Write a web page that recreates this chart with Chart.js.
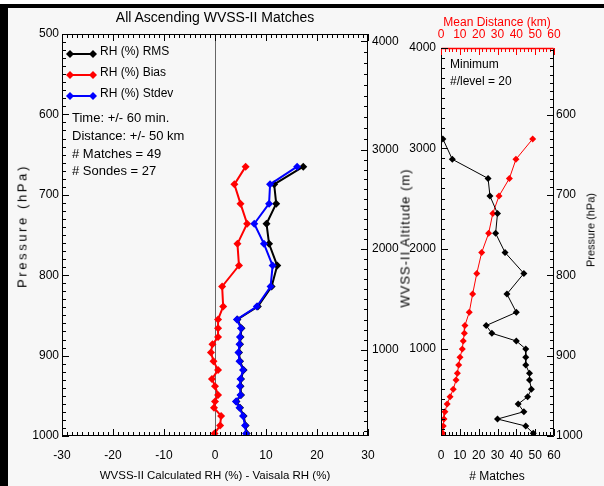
<!DOCTYPE html>
<html><head><meta charset="utf-8">
<script src="https://cdn.jsdelivr.net/npm/chart.js@4.4.1/dist/chart.umd.min.js"></script>
<style>
html,body{margin:0;padding:0;background:#f7f7f7;}
#wrap{position:relative;width:604px;height:486px;overflow:hidden;background:#f7f7f7;font-family:"Liberation Sans",Arial,sans-serif;color:#000;}
canvas{position:absolute;left:0;top:0;}
.t{position:absolute;white-space:nowrap;line-height:1;}
.c{transform:translate(-50%,-50%);}
.l{transform:translate(0,-50%);}
.rot{transform:translate(-50%,-50%) rotate(-90deg);}
.band{position:absolute;background:#000;}
</style></head><body>
<div id="wrap">
<div style="position:absolute;left:0;top:0;width:604px;height:4px;background:#fff"></div>
<div class="band" style="left:0;top:4px;width:604px;height:4px"></div>
<div class="band" style="left:0;top:4px;width:8px;height:482px"></div>
<canvas id="c1" width="604" height="486"></canvas>
<canvas id="c2" width="604" height="486"></canvas>
<div class="t c" style="left:215px;top:17px;font-size:14px">All Ascending WVSS-II Matches</div>
<div class="t rot" style="left:22px;top:226px;font-size:13px;letter-spacing:2.6px">Pressure (hPa)</div>
<div class="t rot" style="left:405px;top:238px;font-size:13px;letter-spacing:1px">WVSS-II Altitude (m)</div>
<div class="t rot" style="left:591px;top:230px;font-size:11px">Pressure (hPa)</div>
<div class="t c" style="left:215px;top:476px;font-size:11.5px">WVSS-II Calculated RH (%) - Vaisala RH (%)</div>
<div class="t c" style="left:497px;top:476px;font-size:12px"># Matches</div>
<div class="t c" style="left:497px;top:22px;font-size:12px;color:#ff0000">Mean Distance (km)</div>
<div class="t l" style="left:100px;top:51px;font-size:12px">RH (%) RMS</div>
<div class="t l" style="left:100px;top:72px;font-size:12px">RH (%) Bias</div>
<div class="t l" style="left:100px;top:93px;font-size:12px">RH (%) Stdev</div>
<div class="t l" style="left:72px;top:117px;font-size:13px">Time: +/- 60 min.</div>
<div class="t l" style="left:72px;top:135px;font-size:13px">Distance: +/- 50 km</div>
<div class="t l" style="left:72px;top:153px;font-size:13px"># Matches = 49</div>
<div class="t l" style="left:72px;top:170px;font-size:13px"># Sondes = 27</div>
<div class="t l" style="left:450px;top:64px;font-size:12px">Minimum</div>
<div class="t l" style="left:450px;top:81px;font-size:12px">#/level = 20</div>
</div>
<script>
// ===== DATA =====
const levelPressure = [665, 687, 711, 736, 761, 788, 814, 839, 855, 866, 877, 886, 896, 907, 918, 929, 938, 949, 957, 965, 975, 987, 997];
const rhRms   = [17.3, 11.6, 12.0, 10.1, 10.6, 12.2, 11.1, 8.4, 4.4, 5.2, 5.0, 4.9, 4.7, 4.9, 5.6, 5.1, 5.0, 5.1, 4.2, 4.9, 5.6, 6.0, 6.2];
const rhBias  = [6.0, 3.8, 5.0, 6.3, 4.4, 4.7, 1.4, 1.6, 0.6, 0.6, 0.6, -0.5, -0.8, -0.3, 0.6, -0.6, 0.0, 0.6, 0.0, -0.2, 1.2, 1.0, -0.1];
const rhStdev = [16.1, 10.8, 10.6, 7.7, 9.6, 11.3, 10.9, 8.2, 4.3, 5.1, 4.9, 4.8, 4.6, 4.8, 5.5, 5.0, 4.9, 5.0, 4.1, 4.8, 5.5, 5.9, 6.1];

const levelAltitude = [3094, 2891, 2700, 2525, 2351, 2153, 1962, 1753, 1548, 1366, 1234, 1157, 1080, 1000, 917, 840, 758, 691, 598, 524, 452, 375, 302, 232, 160];
const matchCount   = [1, 6, 25, 26, 30, 29, 34, 44, 35, 40, 24, 27, 40, 45, 45, 45, 47, 47, 48, 46, 41, 44, 30, 45, 49];
const meanDistance = [48.7, 39.8, 36.3, 30.8, 27.5, 25.3, 21.6, 19.0, 16.8, 15.0, 12.7, 12.4, 11.8, 11.3, 10.1, 9.4, 8.7, 8.0, 6.5, 4.8, 3.3, 2.1, 1.6, 1.2, 0.9];

const rhTicks = [-30, -20, -10, 0, 10, 20, 30];
const pressureTicks = [500, 600, 700, 800, 900, 1000];
const altTickLabels = [1000, 2000, 3000, 4000];
const altTickPressure = [893, 767, 644, 509];
const countTicks = [0, 10, 20, 30, 40, 50, 60];
const rightPressureTicks = [600, 700, 800, 900, 1000];

Chart.defaults.font.family = "'Liberation Sans', Arial, sans-serif";
Chart.defaults.font.size = 12;
Chart.defaults.color = '#000';

function range(a, b, s) { const r = []; for (let v = a; v <= b + 1e-9; v += s) r.push(+v.toFixed(6)); return r; }
function altToP(a) {
  let i = 0;
  if (a >= altTickLabels[altTickLabels.length - 1]) i = altTickLabels.length - 2;
  else { while (i < altTickLabels.length - 2 && a > altTickLabels[i + 1]) i++; }
  const a0 = altTickLabels[i], a1 = altTickLabels[i + 1], p0 = altTickPressure[i], p1 = altTickPressure[i + 1];
  return p0 + (a - a0) / (a1 - a0) * (p1 - p0);
}

function drawTicks(ctx, scale, side, majors, minors, color, area) {
  ctx.save(); ctx.strokeStyle = color; ctx.lineWidth = 1; ctx.beginPath();
  const d = (v, len) => {
    const p = Math.round(scale.getPixelForValue(v)) + 0.5;
    if (side === 'bottom') { ctx.moveTo(p, area.bottom); ctx.lineTo(p, area.bottom - len); }
    if (side === 'top') { ctx.moveTo(p, area.top); ctx.lineTo(p, area.top + len); }
    if (side === 'left') { ctx.moveTo(area.left, p); ctx.lineTo(area.left + len, p); }
    if (side === 'right') { ctx.moveTo(area.right, p); ctx.lineTo(area.right - len, p); }
  };
  majors.forEach(v => d(v, 7)); minors.forEach(v => d(v, 4));
  ctx.stroke(); ctx.restore();
}
function diamond(ctx, x, y, r, c) {
  ctx.fillStyle = c; ctx.beginPath();
  ctx.moveTo(x, y - r); ctx.lineTo(x + r, y); ctx.lineTo(x, y + r); ctx.lineTo(x - r, y); ctx.closePath(); ctx.fill();
}

const setTicks = arr => s => { s.ticks = arr.map(v => ({ value: v })); };
const plain = v => String(v);
const noGrid = { display: false, drawTicks: false };

// ===== LEFT CHART =====
const leftPlugin = {
  id: 'leftDeco',
  beforeDatasetsDraw(chart) {
    const { ctx, chartArea: a, scales } = chart;
    const x0 = Math.round(scales.x.getPixelForValue(0)) + 0.5;
    ctx.save(); ctx.strokeStyle = '#666'; ctx.lineWidth = 1;
    ctx.beginPath(); ctx.moveTo(x0, a.top); ctx.lineTo(x0, a.bottom); ctx.stroke(); ctx.restore();
  },
  afterDraw(chart) {
    const { ctx, chartArea: a, scales } = chart;
    ctx.save(); ctx.strokeStyle = '#000'; ctx.lineWidth = 1;
    ctx.strokeRect(Math.round(a.left) + 0.5, Math.round(a.top) + 0.5, Math.round(a.right - a.left) - 1, Math.round(a.bottom - a.top) - 1);
    ctx.restore();
    const xMin = range(-30, 30, 1).filter(v => v % 10 !== 0);
    drawTicks(ctx, scales.x, 'bottom', rhTicks, xMin, '#000', a);
    drawTicks(ctx, scales.x, 'top', rhTicks, xMin, '#000', a);
    drawTicks(ctx, scales.y, 'left', pressureTicks, range(500, 1000, 10).filter(v => v % 100 !== 0), '#000', a);
    const altMinor = range(100, 4100, 100).filter(v => v % 1000 !== 0).map(altToP).filter(p => p >= 500 && p <= 1000);
    drawTicks(ctx, scales.y2, 'right', altTickPressure, altMinor, '#000', a);
    // legend symbols
    const items = [['#000', 54], ['#ff0000', 75], ['#0000ff', 96]];
    items.forEach(([c, y]) => {
      ctx.save(); ctx.strokeStyle = c; ctx.lineWidth = 2;
      ctx.beginPath(); ctx.moveTo(70, y); ctx.lineTo(93, y); ctx.stroke();
      diamond(ctx, 70, y, 4, c); diamond(ctx, 93, y, 4, c); ctx.restore();
    });
  }
};

const mk = (vals, ys) => vals.map((v, i) => ({ x: v, y: ys[i] }));
const lineDs = (label, data, color, order, w, r) => ({
  label, data, order, showLine: true, borderColor: color, backgroundColor: color,
  borderWidth: w, pointStyle: 'rectRot', pointRadius: r, pointBorderWidth: 0, pointHoverRadius: r, tension: 0
});

new Chart(document.getElementById('c1'), {
  type: 'scatter',
  data: {
    datasets: [
      Object.assign(lineDs('RH (%) Stdev', mk(rhStdev, levelPressure), '#0000ff', 0, 2, 4), { xAxisID: 'x', yAxisID: 'y' }),
      Object.assign(lineDs('RH (%) Bias', mk(rhBias, levelPressure), '#ff0000', 1, 2, 4), { xAxisID: 'x', yAxisID: 'y' }),
      Object.assign(lineDs('RH (%) RMS', mk(rhRms, levelPressure), '#000000', 2, 2, 4), { xAxisID: 'x', yAxisID: 'y' })
    ]
  },
  options: {
    responsive: false, animation: false, events: [],
    layout: { padding: { left: 0, top: 34, right: 176, bottom: 0 } },
    plugins: { legend: { display: false }, tooltip: { enabled: false } },
    scales: {
      x: { type: 'linear', position: 'bottom', min: -30, max: 30, afterBuildTicks: setTicks(rhTicks),
           ticks: { padding: 12, autoSkip: false, maxRotation: 0, color: '#000', callback: plain }, grid: noGrid, border: { display: false },
           afterFit: s => { s.height = 50; } },
      y: { type: 'linear', position: 'left', reverse: true, min: 500, max: 1000, afterBuildTicks: setTicks(pressureTicks),
           ticks: { padding: 3, autoSkip: false, color: '#000', callback: plain }, grid: noGrid, border: { display: false },
           afterFit: s => { s.width = 62; } },
      y2: { type: 'linear', position: 'right', reverse: true, min: 500, max: 1000, afterBuildTicks: setTicks(altTickPressure),
            ticks: { padding: 4, autoSkip: false, color: '#000', callback: (v, i) => String(altTickLabels[i]) },
            grid: noGrid, border: { display: false }, afterFit: s => { s.width = 60; } }
    }
  },
  plugins: [leftPlugin]
});

// ===== RIGHT CHART =====
const rightPlugin = {
  id: 'rightDeco',
  afterDraw(chart) {
    const { ctx, chartArea: a, scales } = chart;
    const L = Math.round(a.left) + 0.5, R = Math.round(a.right) - 0.5, T = Math.round(a.top) + 0.5, B = Math.round(a.bottom) - 0.5;
    ctx.save(); ctx.lineWidth = 1; ctx.strokeStyle = '#000';
    ctx.beginPath(); ctx.moveTo(L, T); ctx.lineTo(L, B); ctx.lineTo(R, B); ctx.lineTo(R, T); ctx.stroke();
    ctx.strokeStyle = '#ff0000'; ctx.lineWidth = 1.5; ctx.beginPath(); ctx.moveTo(L, T); ctx.lineTo(R, T); ctx.stroke();
    ctx.restore();
    const cMin = range(0, 60, 2).filter(v => v % 10 !== 0);
    drawTicks(ctx, scales.x, 'bottom', countTicks, cMin, '#000', a);
    drawTicks(ctx, scales.x2, 'top', countTicks, cMin, '#ff0000', a);
    drawTicks(ctx, scales.y, 'left', altTickLabels, range(200, 3900, 100).filter(v => v % 1000 !== 0), '#000', a);
    drawTicks(ctx, scales.y2, 'right', rightPressureTicks, range(520, 990, 10).filter(v => v % 100 !== 0), '#000', a);
  }
};

new Chart(document.getElementById('c2'), {
  type: 'scatter',
  data: {
    datasets: [
      Object.assign(lineDs('# Matches', mk(matchCount, levelAltitude), '#000000', 0, 1, 3.5), { xAxisID: 'x', yAxisID: 'y' }),
      Object.assign(lineDs('Mean Distance', mk(meanDistance, levelAltitude), '#ff0000', 1, 1, 3.5), { xAxisID: 'x2', yAxisID: 'y' })
    ]
  },
  options: {
    responsive: false, animation: false, events: [],
    layout: { padding: { left: 401, top: 18, right: 10, bottom: 0 } },
    plugins: { legend: { display: false }, tooltip: { enabled: false } },
    scales: {
      x: { type: 'linear', position: 'bottom', min: 0, max: 60, afterBuildTicks: setTicks(countTicks),
           ticks: { padding: 12, autoSkip: false, maxRotation: 0, color: '#000', callback: plain }, grid: noGrid, border: { display: false },
           afterFit: s => { s.height = 50; } },
      x2: { type: 'linear', position: 'top', min: 0, max: 60, afterBuildTicks: setTicks(countTicks),
            ticks: { padding: 6, autoSkip: false, maxRotation: 0, color: '#ff0000', callback: plain }, grid: noGrid, border: { display: false },
            afterFit: s => { s.height = 30; } },
      y: { type: 'linear', position: 'left', min: 133, max: 4000, afterBuildTicks: setTicks(altTickLabels),
           ticks: { padding: 5, autoSkip: false, color: '#000', callback: plain }, grid: noGrid, border: { display: false },
           afterFit: s => { s.width = 40; } },
      y2: { type: 'linear', position: 'right', reverse: true, min: 517, max: 1000, afterBuildTicks: setTicks(rightPressureTicks),
            ticks: { padding: 2, autoSkip: false, color: '#000', callback: plain }, grid: noGrid, border: { display: false },
            afterFit: s => { s.width = 40; } }
    }
  },
  plugins: [rightPlugin]
});
</script>
</body></html>
